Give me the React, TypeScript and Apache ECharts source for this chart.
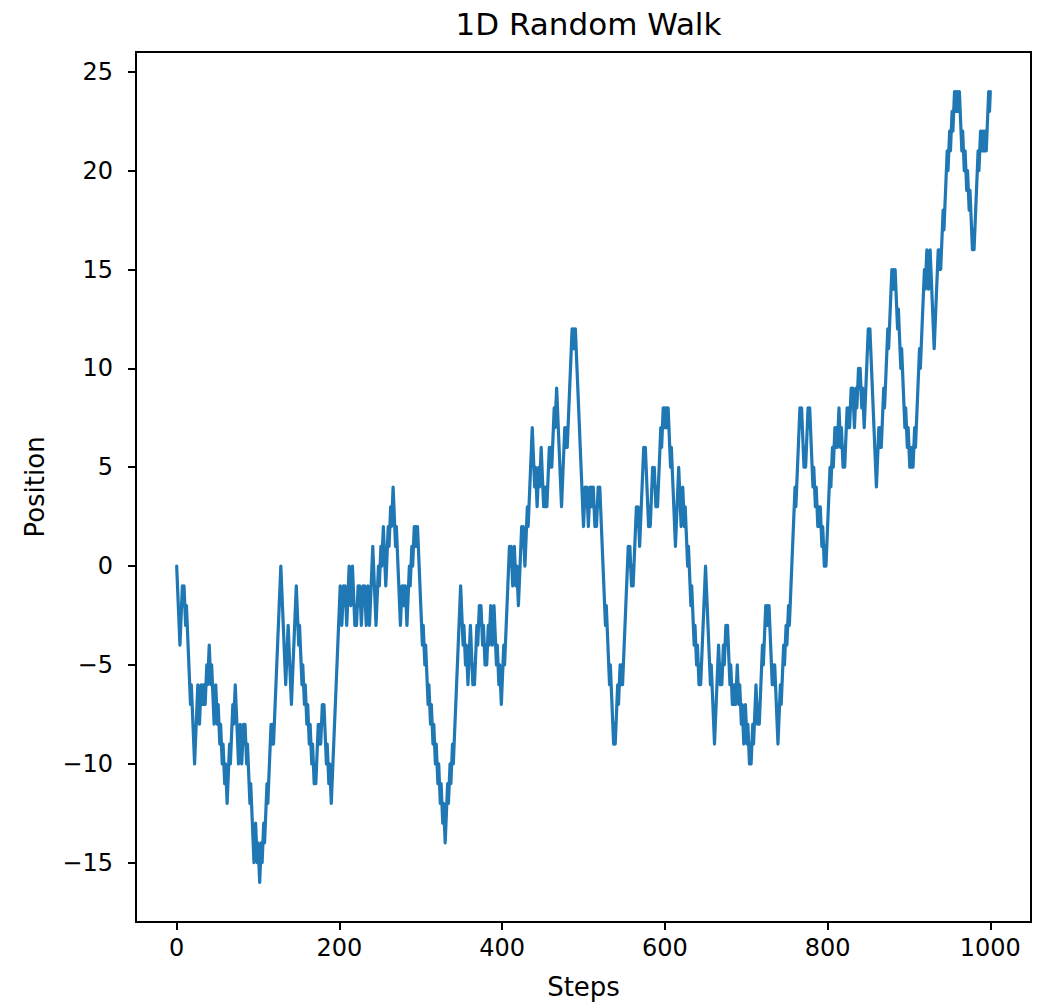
import React, { useEffect, useRef } from "react";
import * as echarts from "echarts";

const chartTitle = "1D Random Walk";
const xName = "Steps";
const yName = "Position";
const xTicks = [0, 200, 400, 600, 800, 1000];
const yTicks = [-15, -10, -5, 0, 5, 10, 15, 20, 25];

// Walk position at each step, in blocks of one hundred steps.
const walk0 = [
  0, -1, -2, -3, -4, -3, -2, -1, -2, -1,
  -2, -3, -2, -3, -4, -5, -6, -7, -6, -7,
  -8, -9, -10, -9, -8, -7, -6, -7, -8, -7,
  -6, -7, -6, -7, -6, -7, -6, -5, -6, -5,
  -4, -5, -6, -5, -6, -7, -8, -7, -6, -7,
  -8, -7, -8, -9, -8, -9, -10, -9, -10, -11,
  -10, -11, -12, -11, -10, -9, -10, -9, -8, -7,
  -8, -7, -6, -7, -8, -9, -10, -9, -8, -9,
  -10, -9, -8, -9, -8, -9, -10, -9, -10, -11,
  -12, -11, -12, -13, -14, -15, -14, -13, -14, -15,
];
const walk1 = [
  -14, -15, -16, -15, -14, -15, -14, -13, -14, -13,
  -12, -11, -12, -11, -10, -9, -8, -9, -8, -9,
  -8, -7, -6, -5, -4, -3, -2, -1, 0, -1,
  -2, -3, -4, -5, -6, -5, -4, -3, -4, -5,
  -6, -7, -6, -5, -4, -3, -2, -1, -2, -3,
  -4, -3, -4, -5, -6, -5, -6, -7, -6, -7,
  -8, -7, -8, -9, -8, -9, -10, -9, -10, -11,
  -10, -11, -10, -9, -8, -9, -8, -9, -8, -7,
  -8, -7, -8, -9, -10, -9, -10, -11, -10, -11,
  -12, -11, -10, -9, -8, -7, -6, -5, -4, -3,
];
const walk2 = [
  -2, -1, -2, -3, -2, -1, -2, -1, -2, -3,
  -2, -1, 0, -1, -2, -1, 0, -1, -2, -3,
  -2, -3, -2, -1, -2, -1, -2, -3, -2, -1,
  -2, -1, -2, -3, -2, -1, -2, -3, -2, -1,
  0, 1, 0, -1, -2, -3, -2, -1, 0, -1,
  0, 1, 0, 1, 2, 1, 0, -1, 0, 1,
  2, 1, 2, 3, 2, 3, 4, 3, 2, 1,
  2, 1, 0, -1, -2, -3, -2, -1, -2, -1,
  -2, -1, -2, -3, -2, -1, 0, -1, 0, 1,
  0, 1, 2, 1, 2, 1, 2, 1, 0, -1,
];
const walk3 = [
  -2, -3, -4, -3, -4, -5, -4, -5, -6, -7,
  -6, -7, -8, -7, -8, -9, -8, -9, -10, -9,
  -10, -11, -10, -11, -12, -11, -12, -13, -12, -13,
  -14, -13, -12, -11, -12, -11, -10, -11, -10, -9,
  -10, -9, -8, -7, -6, -5, -4, -3, -2, -1,
  -2, -3, -4, -3, -4, -5, -4, -5, -6, -5,
  -4, -3, -4, -5, -6, -5, -6, -5, -4, -3,
  -4, -3, -2, -3, -2, -3, -4, -3, -4, -5,
  -4, -5, -4, -3, -4, -3, -2, -3, -4, -3,
  -2, -3, -4, -5, -4, -5, -6, -5, -6, -7,
];
const walk4 = [
  -6, -5, -4, -5, -4, -3, -2, -1, 0, 1,
  0, 1, 0, -1, 0, 1, 0, -1, 0, -1,
  -2, -1, 0, 1, 2, 1, 2, 1, 0, 1,
  2, 3, 2, 3, 4, 5, 6, 7, 6, 5,
  4, 5, 4, 3, 4, 5, 4, 5, 6, 5,
  4, 3, 4, 3, 4, 3, 4, 5, 6, 5,
  6, 5, 6, 7, 8, 7, 8, 9, 8, 7,
  6, 5, 4, 3, 4, 5, 6, 7, 6, 7,
  6, 7, 8, 9, 10, 11, 12, 11, 12, 11,
  12, 11, 10, 9, 8, 7, 6, 5, 4, 3,
];
const walk5 = [
  2, 3, 4, 3, 4, 3, 2, 3, 4, 3,
  4, 3, 4, 3, 2, 3, 2, 3, 4, 3,
  4, 3, 2, 1, 0, -1, -2, -3, -2, -3,
  -4, -5, -6, -5, -6, -7, -8, -9, -8, -9,
  -8, -7, -6, -7, -6, -5, -6, -5, -6, -5,
  -4, -3, -2, -1, 0, 1, 0, 1, 0, -1,
  0, -1, 0, 1, 2, 3, 2, 3, 2, 1,
  2, 3, 4, 5, 6, 5, 6, 5, 4, 3,
  2, 3, 2, 3, 4, 5, 4, 5, 4, 3,
  4, 3, 4, 5, 6, 7, 6, 7, 8, 7,
];
const walk6 = [
  8, 7, 8, 7, 8, 7, 6, 5, 6, 5,
  4, 3, 2, 1, 2, 3, 4, 5, 4, 3,
  2, 3, 4, 3, 2, 3, 2, 1, 0, 1,
  0, -1, -2, -1, -2, -3, -4, -3, -4, -5,
  -4, -5, -6, -5, -6, -5, -4, -3, -2, -1,
  0, -1, -2, -3, -4, -5, -6, -5, -6, -7,
  -8, -9, -8, -7, -6, -5, -4, -5, -6, -5,
  -6, -5, -4, -5, -4, -3, -4, -3, -4, -5,
  -6, -5, -6, -7, -6, -7, -6, -7, -6, -5,
  -6, -7, -6, -7, -8, -7, -8, -9, -8, -7,
];
const walk7 = [
  -8, -9, -8, -9, -10, -9, -10, -9, -8, -9,
  -8, -7, -6, -7, -8, -7, -8, -7, -6, -5,
  -4, -5, -4, -3, -2, -3, -2, -3, -2, -3,
  -4, -5, -6, -5, -6, -5, -6, -7, -8, -9,
  -8, -7, -6, -7, -6, -5, -4, -5, -4, -3,
  -4, -3, -2, -3, -2, -1, 0, 1, 2, 3,
  4, 3, 4, 5, 6, 7, 8, 7, 8, 7,
  6, 5, 6, 5, 6, 7, 8, 7, 8, 7,
  6, 5, 4, 5, 4, 3, 4, 3, 2, 3,
  2, 3, 2, 1, 2, 1, 0, 1, 0, 1,
];
const walk8 = [
  2, 3, 4, 5, 4, 5, 6, 5, 6, 7,
  6, 7, 6, 7, 8, 7, 6, 7, 6, 5,
  6, 5, 6, 7, 8, 7, 8, 7, 8, 9,
  8, 9, 8, 7, 8, 9, 8, 9, 10, 9,
  10, 9, 8, 9, 8, 7, 8, 9, 10, 11,
  12, 11, 12, 11, 10, 9, 8, 7, 6, 5,
  4, 5, 6, 7, 6, 7, 6, 7, 8, 9,
  8, 9, 10, 11, 12, 11, 12, 13, 14, 15,
  14, 15, 14, 15, 14, 13, 12, 13, 12, 11,
  10, 11, 10, 9, 8, 7, 8, 7, 6, 7,
];
const walk9 = [
  6, 5, 6, 5, 6, 5, 6, 7, 6, 7,
  8, 9, 10, 11, 10, 11, 12, 13, 14, 15,
  14, 15, 16, 15, 14, 15, 16, 15, 14, 13,
  12, 11, 12, 13, 14, 15, 16, 15, 16, 15,
  16, 17, 18, 17, 18, 19, 20, 21, 20, 21,
  22, 21, 22, 23, 22, 23, 24, 23, 24, 23,
  24, 23, 24, 23, 22, 21, 22, 21, 20, 21,
  20, 19, 20, 19, 18, 19, 18, 17, 16, 17,
  16, 17, 18, 19, 20, 21, 20, 21, 22, 21,
  22, 21, 22, 21, 22, 21, 22, 23, 24, 23,
  24,
];

const positions = [
  ...walk0, ...walk1, ...walk2, ...walk3, ...walk4,
  ...walk5, ...walk6, ...walk7, ...walk8, ...walk9,
];

const FONT = "DejaVu Sans";
const INK = "#000000";
const LINE_BLUE = "#1f77b4";

// Tick labels use the typographic minus sign.
const fmt = (v: number) => (v < 0 ? "\u2212" + Math.abs(v) : String(v));

export default function App() {
  const ref = useRef<HTMLDivElement>(null);

  useEffect(() => {
    const chart = echarts.init(ref.current!, null, { renderer: "svg" });
    chart.setOption({
      animation: false,
      backgroundColor: "#ffffff",
      title: {
        text: chartTitle,
        left: 583.5,
        top: 3,
        textAlign: "center",
        textStyle: {
          fontFamily: FONT,
          fontSize: 31,
          fontWeight: "normal",
          color: INK,
        },
      },
      grid: {
        left: 136,
        top: 52,
        width: 895,
        height: 870,
        show: true,
        borderColor: INK,
        borderWidth: 2,
        backgroundColor: "transparent",
        containLabel: false,
        outerBoundsMode: "none",
      },
      xAxis: {
        type: "value",
        min: -50,
        max: 1050,
        axisLine: { show: false, onZero: false },
        splitLine: { show: false },
        axisTick: {
          show: true,
          customValues: xTicks,
          length: 8,
          lineStyle: { color: INK, width: 2 },
        },
        axisLabel: {
          customValues: xTicks,
          formatter: fmt,
          margin: 14,
          color: INK,
          fontFamily: FONT,
          fontSize: 24,
        },
        name: xName,
        nameLocation: "middle",
        nameGap: 52,
        nameTextStyle: { fontFamily: FONT, fontSize: 26, color: INK },
      },
      yAxis: {
        type: "value",
        min: -18,
        max: 26,
        axisLine: { show: false, onZero: false },
        splitLine: { show: false },
        axisTick: {
          show: true,
          customValues: yTicks,
          length: 8,
          lineStyle: { color: INK, width: 2 },
        },
        axisLabel: {
          customValues: yTicks,
          formatter: fmt,
          margin: 23,
          color: INK,
          fontFamily: FONT,
          fontSize: 24,
        },
        name: yName,
        nameLocation: "middle",
        nameGap: 88,
        nameTextStyle: { fontFamily: FONT, fontSize: 26, color: INK },
      },
      series: [
        {
          type: "line",
          data: positions.map((v, i) => [i, v]),
          showSymbol: false,
          symbol: "none",
          silent: true,
          lineStyle: { color: LINE_BLUE, width: 3.2, join: "round", cap: "round" },
        },
      ],
    });
    return () => chart.dispose();
  }, []);

  return (
    <div
      ref={ref}
      style={{ position: "fixed", left: 0, top: 0, width: 1038, height: 1002 }}
    />
  );
}
